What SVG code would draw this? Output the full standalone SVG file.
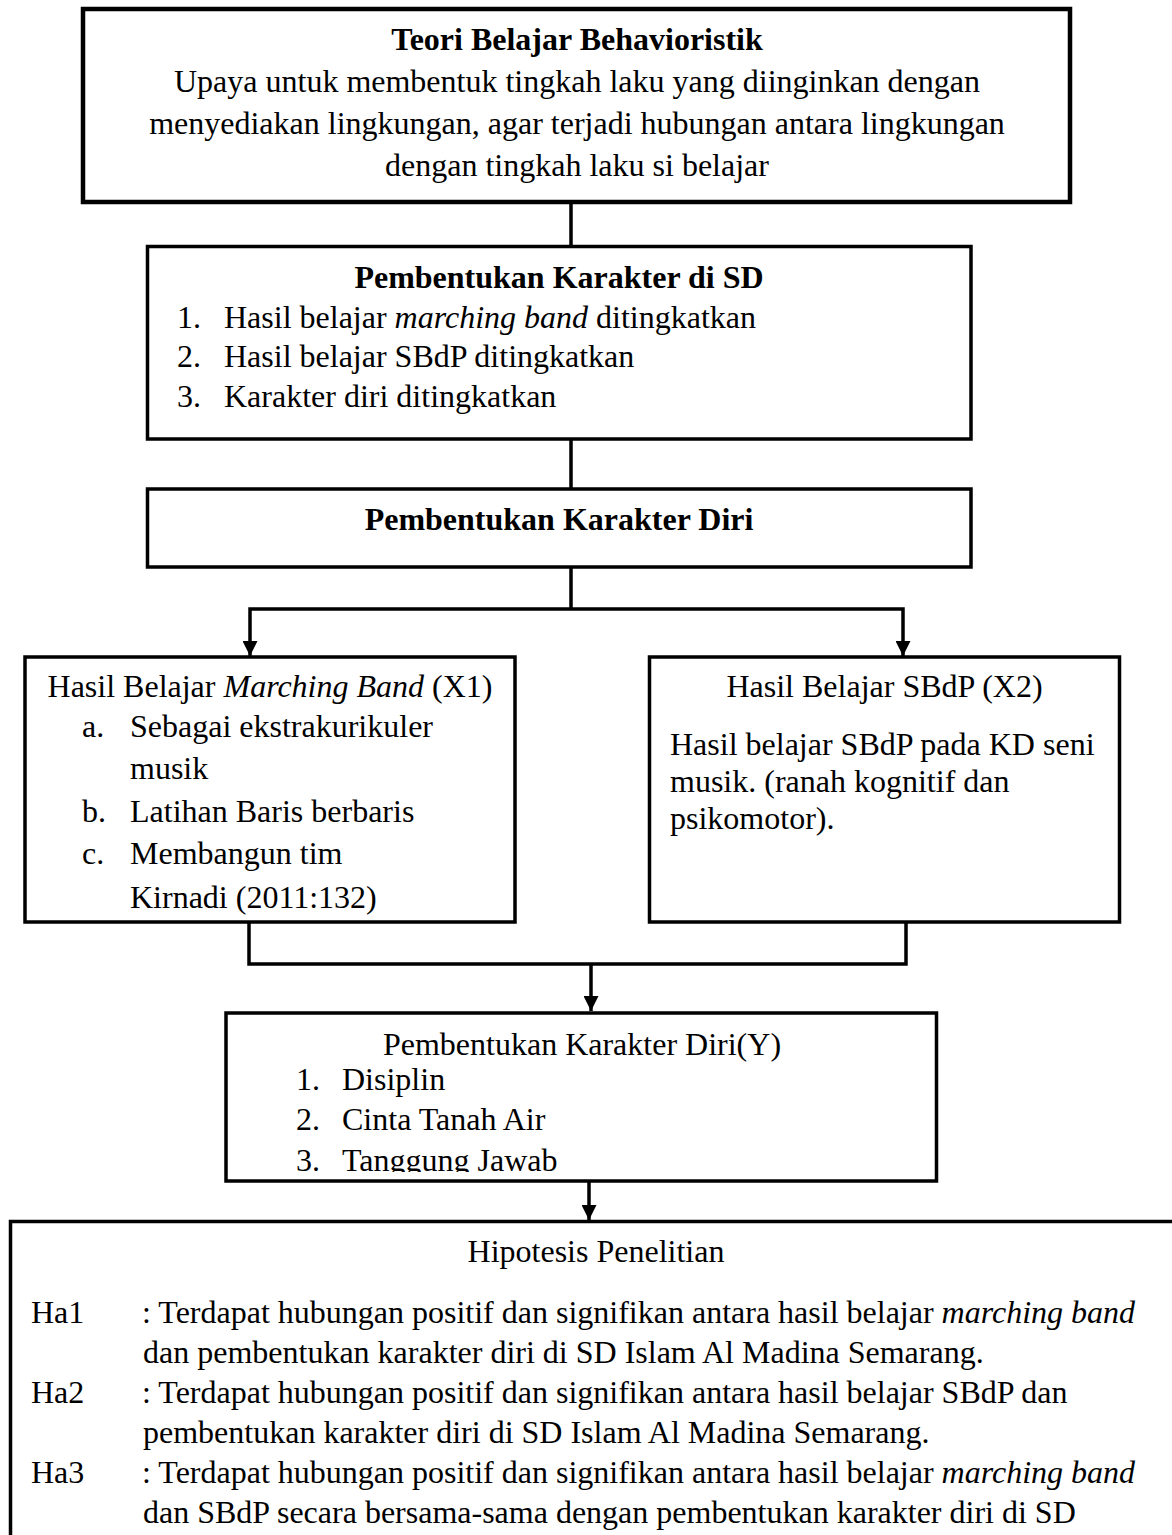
<svg xmlns="http://www.w3.org/2000/svg" width="1172" height="1535" viewBox="0 0 1172 1535">
<style>
.box{fill:#fff;stroke:#000;stroke-width:3.5}
.t{font-family:"Liberation Serif","Times New Roman",serif;font-size:32px;fill:#000}
.b{font-weight:bold}
.c{text-anchor:middle}
.conn{fill:none;stroke:#000;stroke-width:3.5}
</style>
<defs>
<marker id="arr" viewBox="0 0 15 15" refX="15" refY="7.5" markerWidth="15" markerHeight="15" markerUnits="userSpaceOnUse" orient="auto">
<path d="M0,0 L15,7.5 L0,15 z" fill="#000"/>
</marker>
<clipPath id="yclip"><rect x="0" y="1000" width="1172" height="172"/></clipPath>
</defs>
<rect width="1172" height="1535" fill="#fff"/>

<g id="connectors">
<path class="conn" d="M571,204 V246"/>
<path class="conn" d="M571,439 V489"/>
<path class="conn" d="M571,567 V609"/>
<path class="conn" d="M571,609 H250 V656" marker-end="url(#arr)"/>
<path class="conn" d="M571,609 H903 V656" marker-end="url(#arr)"/>
<path class="conn" d="M249,922 V964 H906 V922"/>
<path class="conn" d="M591,964 V1011" marker-end="url(#arr)"/>
<path class="conn" d="M589,1177 V1220" marker-end="url(#arr)"/>
</g>

<g id="teori">
<rect class="box" x="83" y="9" width="987" height="193" style="stroke-width:4.5"/>
<text class="t b c" x="577" y="50">Teori Belajar Behavioristik</text>
<text class="t c" x="577" y="92">Upaya untuk membentuk tingkah laku yang diinginkan dengan</text>
<text class="t c" x="577" y="134">menyediakan lingkungan, agar terjadi hubungan antara lingkungan</text>
<text class="t c" x="577" y="176">dengan tingkah laku si belajar</text>
</g>

<g id="karakter-sd">
<rect class="box" x="147.5" y="246.5" width="823.5" height="192.5"/>
<text class="t b c" x="559" y="288">Pembentukan Karakter di SD</text>
<text class="t" x="177" y="328">1.</text>
<text class="t" x="224" y="328">Hasil belajar <tspan font-style="italic">marching band</tspan> ditingkatkan</text>
<text class="t" x="177" y="367">2.</text>
<text class="t" x="224" y="367">Hasil belajar SBdP ditingkatkan</text>
<text class="t" x="177" y="407">3.</text>
<text class="t" x="224" y="407">Karakter diri ditingkatkan</text>
</g>

<g id="karakter-diri">
<rect class="box" x="147.5" y="489" width="823.5" height="78"/>
<text class="t b c" x="559" y="530">Pembentukan Karakter Diri</text>
</g>

<g id="x1">
<rect class="box" x="25" y="657" width="490" height="265"/>
<text class="t c" x="270" y="697">Hasil Belajar <tspan font-style="italic">Marching Band</tspan> (X1)</text>
<text class="t" x="82" y="737">a.</text>
<text class="t" x="130" y="737">Sebagai ekstrakurikuler</text>
<text class="t" x="130" y="779">musik</text>
<text class="t" x="82" y="822">b.</text>
<text class="t" x="130" y="822">Latihan Baris berbaris</text>
<text class="t" x="82" y="864">c.</text>
<text class="t" x="130" y="864">Membangun tim</text>
<text class="t" x="130" y="908">Kirnadi (2011:132)</text>
</g>

<g id="x2">
<rect class="box" x="649.5" y="657" width="470" height="265"/>
<text class="t c" x="884.5" y="697">Hasil Belajar SBdP (X2)</text>
<text class="t" x="670" y="755">Hasil belajar SBdP pada KD seni</text>
<text class="t" x="670" y="792">musik. (ranah kognitif dan</text>
<text class="t" x="670" y="829">psikomotor).</text>
</g>

<g id="y">
<rect class="box" x="226" y="1013" width="710.5" height="168"/>
<text class="t c" x="582" y="1055">Pembentukan Karakter Diri(Y)</text>
<text class="t" x="296" y="1090">1.</text>
<text class="t" x="342" y="1090">Disiplin</text>
<text class="t" x="296" y="1130">2.</text>
<text class="t" x="342" y="1130">Cinta Tanah Air</text>
<g clip-path="url(#yclip)">
<text class="t" x="296" y="1171">3.</text>
<text class="t" x="342" y="1171">Tanggung Jawab</text>
</g>
</g>

<g id="hipotesis">
<rect class="box" x="10.5" y="1221.5" width="1200" height="400"/>
<text class="t c" x="596" y="1262">Hipotesis Penelitian</text>
<text class="t" x="31" y="1323">Ha1</text>
<text class="t" x="142" y="1323">: Terdapat hubungan positif dan signifikan antara hasil belajar <tspan font-style="italic">marching band</tspan></text>
<text class="t" x="143" y="1363">dan pembentukan karakter diri di SD Islam Al Madina Semarang.</text>
<text class="t" x="31" y="1403">Ha2</text>
<text class="t" x="142" y="1403">: Terdapat hubungan positif dan signifikan antara hasil belajar SBdP dan</text>
<text class="t" x="143" y="1443">pembentukan karakter diri di SD Islam Al Madina Semarang.</text>
<text class="t" x="31" y="1483">Ha3</text>
<text class="t" x="142" y="1483">: Terdapat hubungan positif dan signifikan antara hasil belajar <tspan font-style="italic">marching band</tspan></text>
<text class="t" x="143" y="1523">dan SBdP secara bersama-sama dengan pembentukan karakter diri di SD</text>
</g>
</svg>
